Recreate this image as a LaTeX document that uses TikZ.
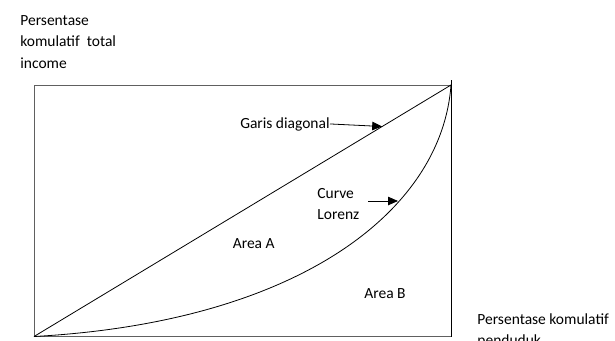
\documentclass[tikz,border=0pt]{standalone}
\usepackage{fontspec}
\setmainfont{Carlito}
\usetikzlibrary{positioning,arrows.meta,calc}

\begin{document}
\begin{tikzpicture}[
  x=1pt,y=-1pt,
  line width=0.8pt,
  every node/.style={font=\fontsize{15.5}{21.5}\selectfont},
  lbl/.style={inner sep=0pt,align=left},
  pointer/.style={-{Triangle[length=10pt,width=8.5pt]}}
]
\useasboundingbox (0,0) rectangle (615,340);
% kotak grafik
\coordinate (O) at (34,336.5);
\coordinate (P) at (451,85);
\draw[gray!75!black,line width=1pt] (P) -- (34,85) -- (O) -- (451,336.5);
\draw (451,80) -- (451,336.5);
% garis diagonal
\draw (O) -- (P);
% kurva Lorenz
\draw (O) .. controls (300,322) and (442,210) .. (P);
% sumbu
\node[lbl,anchor=north west] (ylab) at (20,15)
  {Persentase\\komulatif~~total\\income};
\node[lbl,anchor=north west] (xlab) at (477,313)
  {Persentase komulatif\\penduduk};
% keterangan
\node[lbl,anchor=base east] (diag) at (330,128) {Garis diagonal};
\coordinate (diagend) at ($(O)!0.835!(P)$);
\draw[pointer] (diag.east) -- (diagend);
\node[lbl,anchor=north west] (lorenz) at (317,188) {Curve\\Lorenz};
\coordinate (lorenzstart) at (368,201);
\coordinate (lorenzend) at (398,201);
\draw[pointer] (lorenzstart) -- (lorenzend);
\node[lbl,anchor=base east] (areaA) at (275,248) {Area A};
\node[lbl,anchor=base west] (areaB) at (364,298) {Area B};
\end{tikzpicture}
\end{document}
